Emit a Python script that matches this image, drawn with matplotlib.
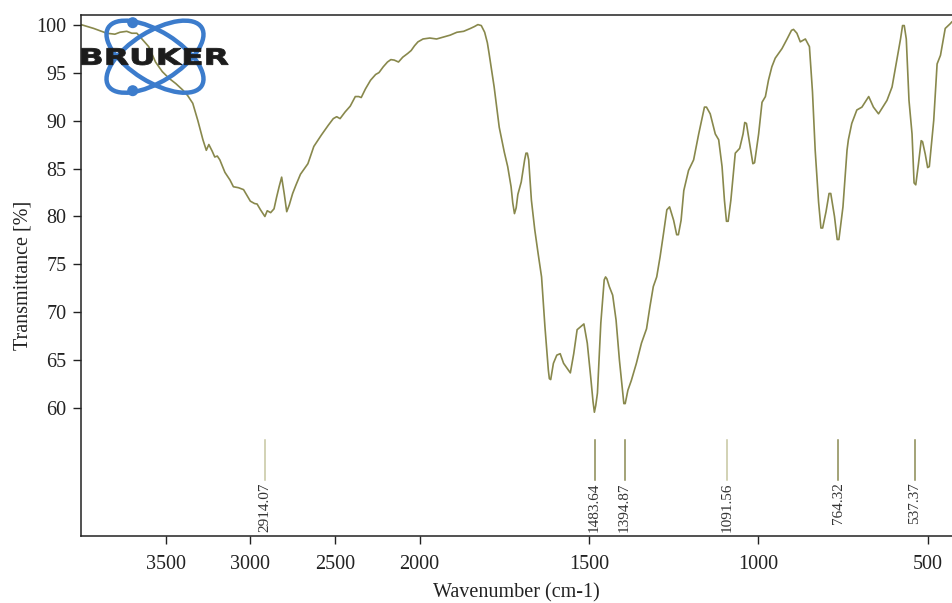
import numpy as np
import matplotlib
matplotlib.use("Agg")
import matplotlib.pyplot as plt
from matplotlib.patches import Ellipse, Circle, PathPatch
from matplotlib.textpath import TextPath
from matplotlib.font_manager import FontProperties
from matplotlib.transforms import Affine2D

# FTIR spectrum (wavenumber in cm-1, transmittance in %)
wavenumber = [
    4000, 3925, 3848, 3800, 3770, 3730, 3700, 3670, 3640, 3600, 3560, 3520,
    3480, 3440, 3400, 3370, 3340, 3310, 3280, 3260, 3245, 3225, 3210, 3195,
    3180, 3150, 3120, 3100, 3070, 3040, 3020, 3000, 2975, 2960, 2940, 2914,
    2900, 2880, 2860, 2845, 2830, 2815, 2800, 2785, 2770, 2750, 2730, 2704,
    2660, 2625, 2580, 2540, 2510, 2490, 2470, 2440, 2410, 2380, 2360, 2345,
    2320, 2290, 2260, 2240, 2215, 2190, 2170, 2150, 2125, 2100, 2070, 2050,
    2030, 2010, 1990, 1970, 1950, 1930, 1910, 1890, 1870, 1850, 1838, 1828,
    1818, 1808, 1800, 1795, 1780, 1765, 1750, 1740, 1730, 1725, 1720, 1715,
    1710, 1700, 1690, 1686, 1682, 1678, 1670, 1660, 1650, 1640, 1630, 1620,
    1617, 1613, 1605, 1595, 1585, 1575, 1565, 1555, 1545, 1535, 1525, 1515,
    1505, 1495, 1488, 1484, 1480, 1475, 1465, 1455, 1451, 1447, 1440, 1430,
    1420, 1410, 1400, 1397, 1393, 1385, 1375, 1360, 1345, 1330, 1320, 1310,
    1300, 1290, 1280, 1270, 1262, 1250, 1241, 1236, 1228, 1220, 1206, 1191,
    1176, 1165, 1159, 1153, 1142, 1127, 1117, 1107, 1100, 1094, 1089, 1081,
    1068, 1055, 1045, 1040, 1035, 1024, 1016, 1011, 999, 989, 979, 970,
    960, 950, 930, 915, 902, 896, 886, 876, 861, 849, 840, 832,
    822, 815, 810, 800, 791, 786, 775, 767, 762, 750, 738, 734,
    724, 709, 694, 674, 660, 645, 620, 605, 591, 580, 574, 569,
    563, 555, 546, 540, 535, 527, 519, 515, 507, 500, 495, 482,
    472, 462, 448, 433, 428,
]
transmittance = [
    100.0, 99.6, 99.1, 99.0, 99.2, 99.3, 99.1, 99.1, 98.5, 97.7, 96.1, 95.1,
    94.4, 93.85, 93.2, 92.6, 91.8, 90.0, 88.0, 86.9, 87.5, 86.8, 86.2, 86.3,
    85.9, 84.6, 83.8, 83.1, 83.0, 82.8, 82.2, 81.6, 81.35, 81.3, 80.7, 80.0,
    80.6, 80.4, 80.8, 82.0, 83.1, 84.1, 82.4, 80.5, 81.2, 82.4, 83.3, 84.4,
    85.5, 87.3, 88.5, 89.5, 90.2, 90.4, 90.2, 90.9, 91.5, 92.5, 92.5, 92.4,
    93.3, 94.2, 94.8, 95.0, 95.6, 96.1, 96.35, 96.3, 96.1, 96.6, 97.0, 97.3,
    97.8, 98.2, 98.5, 98.6, 98.5, 98.7, 98.9, 99.2, 99.3, 99.6, 99.8, 100.0,
    99.9, 99.2, 98.1, 97.0, 93.5, 89.3, 86.7, 85.2, 83.1, 81.4, 80.3, 80.9,
    82.3, 83.6, 85.9, 86.6, 86.6, 85.9, 81.7, 78.6, 76.1, 73.7, 68.5, 64.0,
    63.1, 63.0, 64.7, 65.55, 65.7, 64.7, 64.2, 63.7, 65.7, 68.2, 68.5, 68.8,
    66.8, 63.3, 60.7, 59.6, 60.3, 61.6, 68.9, 73.4, 73.7, 73.5, 72.7, 71.8,
    69.2, 65.0, 61.6, 60.5, 60.5, 61.9, 62.9, 64.7, 66.8, 68.3, 70.6, 72.7,
    73.7, 75.8, 78.2, 80.7, 81.0, 79.6, 78.1, 78.1, 79.6, 82.7, 84.8, 85.9,
    88.6, 90.4, 91.4, 91.4, 90.7, 88.6, 88.0, 85.2, 81.7, 79.5, 79.5, 81.7,
    86.6, 87.1, 88.6, 89.8, 89.7, 87.3, 85.5, 85.6, 88.6, 91.9, 92.5, 94.2,
    95.6, 96.5, 97.5, 98.5, 99.4, 99.5, 99.1, 98.2, 98.5, 97.7, 93.0, 86.9,
    81.5, 78.8, 78.8, 80.5, 82.4, 82.4, 80.0, 77.6, 77.6, 81.0, 86.9, 88.0,
    89.7, 91.1, 91.4, 92.5, 91.4, 90.7, 92.1, 93.5, 96.3, 98.5, 99.9, 99.9,
    98.5, 92.1, 88.6, 83.5, 83.3, 85.5, 87.9, 87.8, 86.5, 85.1, 85.2, 90.0,
    95.9, 96.8, 99.6, 100.1, 100.3,
]

# Picked peaks
peak_positions = [2914.07, 1483.64, 1394.87, 1091.56, 764.32, 537.37]
peak_labels = ["2914.07", "1483.64", "1394.87", "1091.56", "764.32", "537.37"]
peak_colors = ["#c6c6a0", "#8a8a52", "#8a8a52", "#c6c6a0", "#8a8a52", "#8a8a52"]

y_ticks = [60, 65, 70, 75, 80, 85, 90, 95, 100]
x_ticks = [3500, 3000, 2500, 2000, 1500, 1000, 500]

W, H = 952, 603
fig = plt.figure(figsize=(W / 100, H / 100), dpi=100)
ax = fig.add_axes([81 / W, (H - 536) / H, (W - 81) / W, (536 - 15) / H])

serif = "Liberation Serif"


# OPUS-style axis: the region above 2000 cm-1 is drawn at half scale
def fwd(w):
    w = np.asarray(w, dtype=float)
    return np.where(w > 2000, 2000 + (w - 2000) / 2.0, w)


def inv(u):
    u = np.asarray(u, dtype=float)
    return np.where(u > 2000, 2000 + (u - 2000) * 2.0, u)


ax.set_xscale("function", functions=(fwd, inv))
ax.set_xlim(4000, 428)
ax.set_ylim(46.7, 101.0)

ax.plot(wavenumber, transmittance, color="#88884c", lw=1.2,
        solid_joinstyle="round", solid_capstyle="round")

for pos, lab, col in zip(peak_positions, peak_labels, peak_colors):
    ax.plot([pos, pos], [56.7, 52.5], color=col, lw=1.1)
    ax.text(pos, 52.3, lab, rotation=90, ha="center", va="top",
            fontsize=11, family=serif, color="#333333")

ax.set_xticks(x_ticks)
ax.set_xticklabels([str(t) for t in x_ticks])
ax.set_yticks(y_ticks)
ax.set_yticklabels([str(t) for t in y_ticks])
ax.minorticks_off()
ax.tick_params(direction="out", length=5.5, width=1, color="#222222",
               labelsize=14.5, labelcolor="#222222")
for lbl in ax.get_xticklabels() + ax.get_yticklabels():
    lbl.set_family(serif)
ax.tick_params(axis="x", pad=8)
ax.tick_params(axis="y", pad=5)

for side in ("left", "bottom", "top"):
    ax.spines[side].set_linewidth(1.1)
    ax.spines[side].set_color("#222222")
ax.spines["right"].set_visible(False)

ax.set_xlabel("Wavenumber (cm-1)", family=serif, fontsize=14.5, color="#222222",
              labelpad=7)
ax.set_ylabel("Transmittance [%]", family=serif, fontsize=14.5, color="#222222",
              labelpad=3)

# Logo, laid out in top-left pixel coordinates
px = Affine2D().scale(1, -1).translate(0, H).scale(1 / W, 1 / H) + fig.transFigure
blue = "#3c7ccc"
for ang in (32, -32):
    fig.add_artist(Ellipse((155, 56.7), width=110, height=50, angle=ang,
                           fill=False, ec=blue, lw=3.2, transform=px, zorder=5))
for cy in (22.7, 90.7):
    fig.add_artist(Circle((132.7, cy), radius=4.8, color=blue, transform=px,
                          zorder=6))

tp = TextPath((0, 0), "BRUKER", size=100,
              prop=FontProperties(family="DejaVu Sans", weight="bold"))
ext = tp.get_extents()
x0, x1, y0, y1 = 81.7, 228.3, 48.3, 65.0
sx = (x1 - x0) / ext.width
sy = (y1 - y0) / ext.height
tr = (Affine2D().translate(-ext.x0, -ext.y0).scale(sx, -sy).translate(x0, y1)
      + px)
fig.add_artist(PathPatch(tp, transform=tr, fc="#1c1c1c", ec="#1c1c1c", lw=0.6,
                         zorder=7))

fig.savefig("out.png", dpi=100)
